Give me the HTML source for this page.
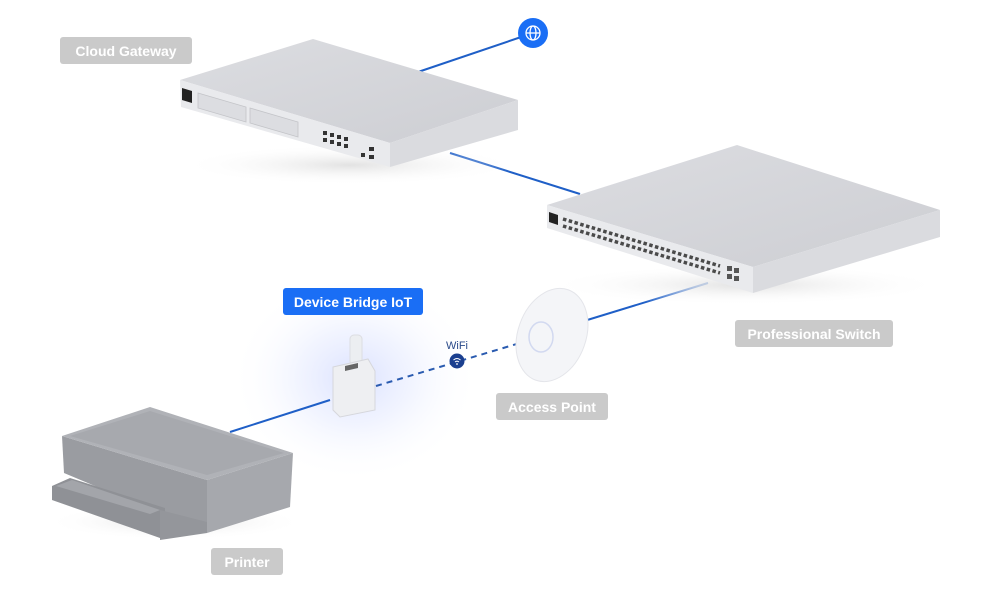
<!DOCTYPE html>
<html><head><meta charset="utf-8"><style>
html,body{margin:0;padding:0;background:#fff;}
svg{display:block}
text{font-family:"Liberation Sans",sans-serif;}
</style></head><body>
<svg width="983" height="610" viewBox="0 0 983 610" xmlns="http://www.w3.org/2000/svg">
<defs>
<radialGradient id="glow" cx="0.5" cy="0.5" r="0.5">
<stop offset="0" stop-color="#d4dcff" stop-opacity="0.85"/>
<stop offset="0.45" stop-color="#e6ebff" stop-opacity="0.55"/>
<stop offset="1" stop-color="#ffffff" stop-opacity="0"/>
</radialGradient>
<radialGradient id="shadow" cx="0.5" cy="0.5" r="0.5">
<stop offset="0" stop-color="#e2e2e2"/>
<stop offset="1" stop-color="#fff" stop-opacity="0"/>
</radialGradient>
<linearGradient id="topG" x1="0" y1="0" x2="1" y2="1">
<stop offset="0" stop-color="#dcdde1"/><stop offset="1" stop-color="#cdced3"/>
</linearGradient>
</defs>

<ellipse cx="355" cy="378" rx="125" ry="105" fill="url(#glow)"/>

<line x1="533" y1="33" x2="418" y2="72" stroke="#1f5fc7" stroke-width="2"/>
<line x1="450" y1="153" x2="580" y2="194" stroke="#1f5fc7" stroke-width="2"/>
<line x1="708" y1="283" x2="584" y2="321" stroke="#1f5fc7" stroke-width="2"/>
<line x1="330" y1="400" x2="230" y2="432" stroke="#1f5fc7" stroke-width="2"/>
<line x1="376" y1="386" x2="520" y2="343" stroke="#2a5bb0" stroke-width="2" stroke-dasharray="6,5"/>

<circle cx="533" cy="33" r="15" fill="#1a6ef5"/>
<g fill="none" stroke="#fff" stroke-width="1.3">
<circle cx="533" cy="33" r="7"/>
<ellipse cx="533" cy="33" rx="3" ry="7"/>
<line x1="526" y1="33" x2="540" y2="33"/>
</g>

<!-- cloud gateway -->
<ellipse cx="350" cy="165" rx="170" ry="20" fill="url(#shadow)"/>
<polygon points="180,80 313,39 518,100 390,143" fill="url(#topG)"/>
<polygon points="180,80 390,143 390,167 181,107" fill="#e9eaed"/>
<polygon points="390,143 518,100 518,130 390,167" fill="#dadbdf"/>
<polygon points="182,88 192,91 192,103 182,100" fill="#222"/>
<polygon points="198,93 246,107 246,122 198,108" fill="#dcdde1" stroke="#c3c4c8" stroke-width="0.8"/>
<polygon points="250,108 298,122 298,137 250,123" fill="#dcdde1" stroke="#c3c4c8" stroke-width="0.8"/>
<g fill="#333">
<rect x="323" y="131" width="4" height="4"/><rect x="330" y="133" width="4" height="4"/><rect x="337" y="135" width="4" height="4"/><rect x="344" y="137" width="4" height="4"/>
<rect x="323" y="138" width="4" height="4"/><rect x="330" y="140" width="4" height="4"/><rect x="337" y="142" width="4" height="4"/><rect x="344" y="144" width="4" height="4"/>
<rect x="369" y="147" width="5" height="4"/><rect x="369" y="155" width="5" height="4"/><rect x="361" y="153" width="4" height="4"/>
</g>

<!-- professional switch -->
<ellipse cx="745" cy="285" rx="200" ry="20" fill="url(#shadow)"/>
<polygon points="547,205 737,145 940,210 753,267" fill="url(#topG)"/>
<polygon points="547,205 753,267 753,293 547,228" fill="#e9eaed"/>
<polygon points="753,267 940,210 940,237 753,293" fill="#dadbdf"/>
<polygon points="549,212 558,215 558,225 549,222" fill="#222"/>
<g stroke="#4a4a4a" stroke-width="3.5" stroke-dasharray="3.5,2.5">
<line x1="563" y1="219" x2="720" y2="266"/>
<line x1="563" y1="226" x2="720" y2="273"/>
</g>
<g fill="#555"><rect x="727" y="266" width="5" height="5"/><rect x="734" y="268" width="5" height="5"/><rect x="727" y="274" width="5" height="5"/><rect x="734" y="276" width="5" height="5"/></g>

<!-- access point -->
<ellipse cx="552" cy="335" rx="34" ry="48" transform="rotate(20 552 335)" fill="#f4f5f8" stroke="#e4e5ea" stroke-width="1"/>
<ellipse cx="541" cy="337" rx="12" ry="15" fill="none" stroke="#d2d9f0" stroke-width="1.5"/>

<!-- device bridge -->
<rect x="350" y="335" width="12" height="30" rx="4" fill="#eceef1" stroke="#dcdde2"/>
<polygon points="333,367 368,359 375,371 375,410 340,417 333,410" fill="#eeeff2" stroke="#d6d7dc"/>
<polygon points="345,366 358,363 358,368 345,371" fill="#666"/>

<circle cx="457" cy="361" r="7.5" fill="#1b3f8f"/>
<path d="M453.5 360 q3.5 -3 7 0 M455 362 q2 -1.6 4 0" stroke="#fff" stroke-width="1" fill="none"/>
<circle cx="457" cy="364" r="0.9" fill="#fff"/>
<text x="457" y="349" font-size="11" fill="#2a4a8a" text-anchor="middle">WiFi</text>

<!-- printer -->
<ellipse cx="175" cy="522" rx="130" ry="18" fill="url(#shadow)"/>
<polygon points="62,436 207,480 207,533 64,473" fill="#9a9ca1"/>
<polygon points="207,480 293,453 290,507 207,533" fill="#a6a8ad"/>
<polygon points="62,436 150,407 293,453 207,480" fill="#b0b2b7"/>
<polygon points="70,436 150,411 284,453 207,475" fill="#a7a9ae"/>
<polygon points="52,486 70,478 165,508 165,535 160,538 52,500" fill="#8f9196"/>
<polygon points="56,486 72,480 160,510 150,514" fill="#a3a5aa"/>
<polygon points="160,510 207,522 207,533 160,540" fill="#94969b"/>

<!-- labels -->
<rect x="60" y="37" width="132" height="27" rx="3" fill="#cacaca"/>
<text x="126" y="56" font-size="14" font-weight="bold" fill="#fff" text-anchor="middle">Cloud Gateway</text>
<rect x="283" y="288" width="140" height="27" rx="3" fill="#1a6ef5"/>
<text x="353" y="307" font-size="14" font-weight="bold" fill="#fff" text-anchor="middle">Device Bridge IoT</text>
<rect x="735" y="320" width="158" height="27" rx="3" fill="#cacaca"/>
<text x="814" y="339" font-size="14" font-weight="bold" fill="#fff" text-anchor="middle">Professional Switch</text>
<rect x="496" y="393" width="112" height="27" rx="3" fill="#cacaca"/>
<text x="552" y="412" font-size="14" font-weight="bold" fill="#fff" text-anchor="middle">Access Point</text>
<rect x="211" y="548" width="72" height="27" rx="3" fill="#cacaca"/>
<text x="247" y="567" font-size="14" font-weight="bold" fill="#fff" text-anchor="middle">Printer</text>
</svg>
</body></html>
